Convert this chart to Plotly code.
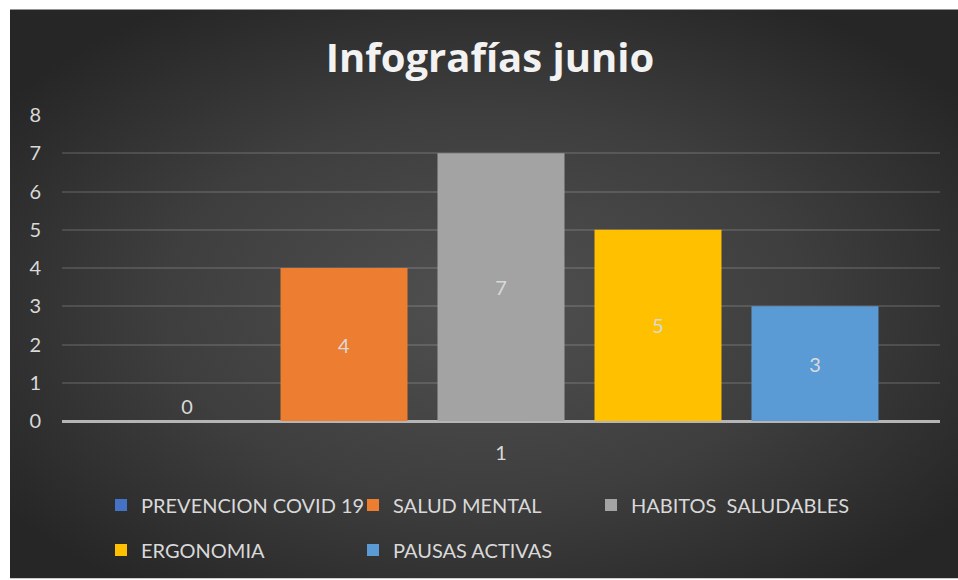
import base64
import plotly.graph_objects as go

# ---- data ----
categories = ["1"]
series_names = ["PREVENCION COVID 19", "SALUD MENTAL", "HABITOS  SALUDABLES", "ERGONOMIA", "PAUSAS ACTIVAS"]
series_values = [[0], [4], [7], [5], [3]]
series_colors = ["#4472C4", "#ED7D31", "#A3A3A3", "#FFC000", "#5B9BD5"]
y_ticks = [0, 1, 2, 3, 4, 5, 6, 7, 8]
title_text = "Infografías junio"

FONT = "Lato"
TXT = "#d9d9d9"

W, H = 958, 580
ML, MR, MT, MB = 62, 18, 115, 158
PW, PH = W - ML - MR, H - MT - MB

legend_ids = ["legend", "legend2", "legend3", "legend4", "legend5"]
# legend entry positions (left px, centre-y px)
legend_pos = [(101, 505), (353, 505), (591, 505), (101, 550), (353, 550)]

fig = go.Figure()
for i, (name, vals, col) in enumerate(zip(series_names, series_values, series_colors)):
    fig.add_trace(go.Bar(
        x=categories, y=vals, name=name,
        marker=dict(color=col, line=dict(width=0)),
        text=[str(v) for v in vals],
        textposition="outside" if vals[0] == 0 else "inside",
        insidetextanchor="middle",
        textangle=0,
        textfont=dict(family=FONT, size=20, color=TXT),
        cliponaxis=False,
        legend=legend_ids[i],
    ))

# radial gradient background as svg image
svg = f'''<svg xmlns="http://www.w3.org/2000/svg" width="{W-10}" height="{H-9}" viewBox="0 0 {W-10} {H-9}">
<defs><radialGradient id="g" cx="0.5" cy="0.52" r="0.62" gradientUnits="objectBoundingBox">
<stop offset="0" stop-color="#505050"/><stop offset="0.55" stop-color="#3e3e3e"/><stop offset="1" stop-color="#262626"/>
</radialGradient></defs><rect width="100%" height="100%" fill="url(#g)"/></svg>'''
src = "data:image/svg+xml;base64," + base64.b64encode(svg.encode()).decode()

x0 = (10 - ML) / PW
x1 = (W - ML) / PW
ytop = (H - MB - 9) / PH
ybot = (H - MB - H) / PH

legends = {}
for lid, (lx, ly) in zip(legend_ids, legend_pos):
    legends[lid] = dict(orientation="h", xanchor="left", yanchor="middle",
                        x=(lx - ML) / PW, y=(H - MB - ly) / PH,
                        font=dict(family=FONT, size=20, color=TXT),
                        bgcolor="rgba(0,0,0,0)", itemclick=False, itemdoubleclick=False)

fig.update_layout(
    width=W, height=H,
    margin=dict(l=ML, r=MR, t=MT, b=MB, pad=0),
    paper_bgcolor="white",
    plot_bgcolor="rgba(0,0,0,0)",
    images=[dict(source=src, xref="paper", yref="paper", x=x0, y=ytop,
                 sizex=x1 - x0, sizey=ytop - ybot, xanchor="left", yanchor="top",
                 sizing="stretch", layer="below")],
    title=dict(text=f"<b>{title_text}</b>", x=490 / W, xanchor="center",
               y=1 - 58 / H, yanchor="middle",
               font=dict(family="Open Sans", size=40, color="#f2f2f2")),
    barmode="group",
    bargap=0.106,
    bargroupgap=0.191,
    showlegend=True,
    xaxis=dict(type="category", showgrid=False, showline=False, zeroline=False,
               ticks="", ticklabelstandoff=18,
               tickfont=dict(family=FONT, size=20, color=TXT)),
    yaxis=dict(range=[0, 8], tickvals=y_ticks, showgrid=True,
               gridcolor="rgba(255,255,255,0.13)", gridwidth=1.5,
               zeroline=True, zerolinecolor="#b5b5b5", zerolinewidth=2.5,
               showline=False, ticks="", ticklabelstandoff=20,
               tickfont=dict(family=FONT, size=20, color=TXT)),
    **legends,
)

fig.write_html("out.html", config={"displayModeBar": False},
               post_script="document.body.style.margin='0';")
